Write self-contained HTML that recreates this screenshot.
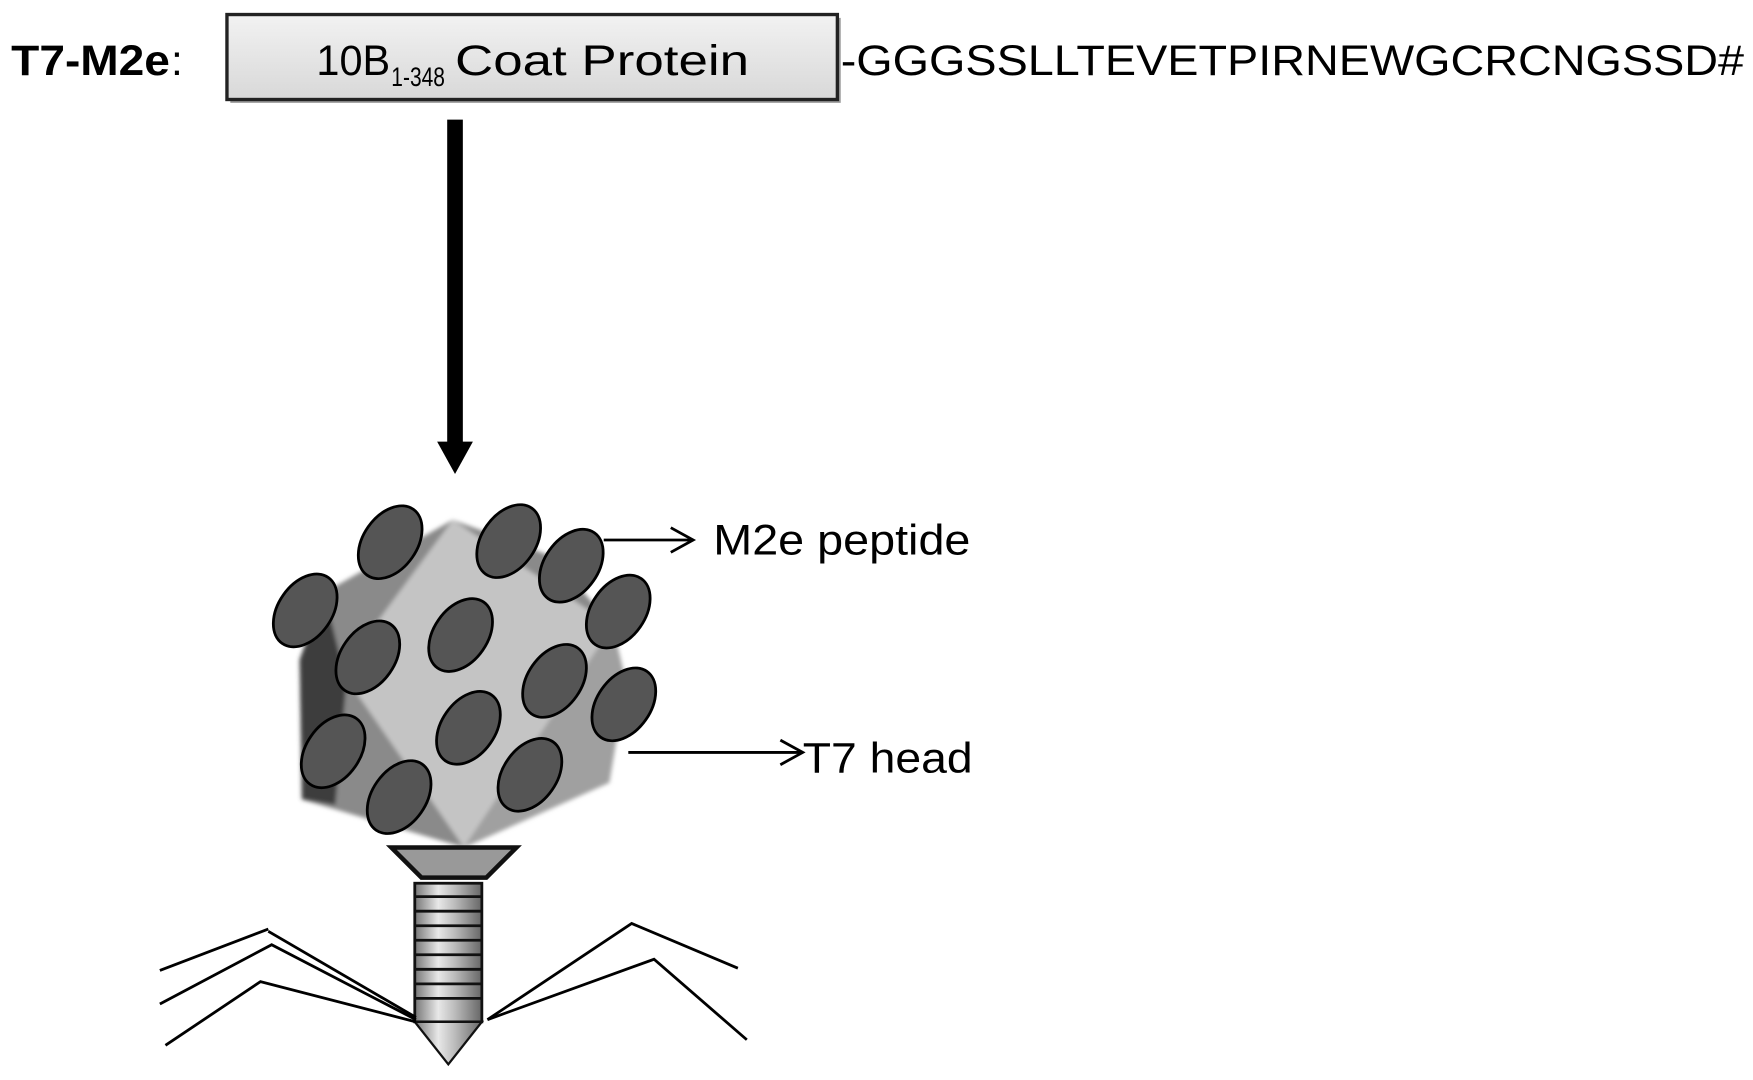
<!DOCTYPE html>
<html><head><meta charset="utf-8"><style>
html,body{margin:0;padding:0;background:#fff;width:1753px;height:1080px;overflow:hidden}
svg{display:block}
text{font-family:"Liberation Sans",Arial,sans-serif;fill:#000}
</style></head><body>
<svg width="1753" height="1080" viewBox="0 0 1568 966" preserveAspectRatio="none" xmlns="http://www.w3.org/2000/svg">
<defs>
<linearGradient id="bx" x1="0" y1="0" x2="0" y2="1"><stop offset="0" stop-color="#f2f2f2"/><stop offset="1" stop-color="#d8d8d8"/></linearGradient>
<linearGradient id="sc" x1="0" y1="0" x2="1" y2="0"><stop offset="0" stop-color="#777"/><stop offset="0.35" stop-color="#e8e8e8"/><stop offset="0.6" stop-color="#bbb"/><stop offset="1" stop-color="#666"/></linearGradient>
<filter id="bl"><feGaussianBlur stdDeviation="2"/></filter>
</defs>
<text x="10" y="67" font-size="38" font-weight="bold" textLength="142" lengthAdjust="spacingAndGlyphs">T7-M2e</text>
<text x="153" y="67" font-size="38">:</text>
<rect x="206" y="16" width="546" height="76" fill="#999"/>
<rect x="203" y="13" width="546" height="76" fill="url(#bx)" stroke="#222" stroke-width="3"/>
<text x="283" y="67" font-size="38" textLength="66" lengthAdjust="spacingAndGlyphs">10B</text>
<text x="350" y="77" font-size="24" textLength="48" lengthAdjust="spacingAndGlyphs">1-348</text>
<text x="407" y="67" font-size="38" textLength="263" lengthAdjust="spacingAndGlyphs">Coat Protein</text>
<text x="752" y="67" font-size="38" textLength="808" lengthAdjust="spacingAndGlyphs">-GGGSSLLTEVETPIRNEWGCRCNGSSD#</text>
<rect x="400" y="107" width="14" height="290" fill="#000"/>
<polygon points="391,395 423,395 407,424" fill="#000"/>
<g filter="url(#bl)">
<polygon points="405,465 495,498 548,560 560,610 545,700 415,758 270,715 268,590 290,530" fill="#8a8a8a"/>
<polygon points="268,590 290,530 310,610 300,720 270,715" fill="#3c3c3c"/>
<polygon points="405,465 548,560 415,758 305,600" fill="#c4c4c4"/>
<polygon points="548,560 560,610 545,700 415,758" fill="#a0a0a0"/>
</g>
<g fill="#555" stroke="#000" stroke-width="2.5">
<ellipse cx="349" cy="485" rx="24" ry="36" transform="rotate(35 349 485)"/>
<ellipse cx="455" cy="484" rx="24" ry="36" transform="rotate(35 455 484)"/>
<ellipse cx="511" cy="506" rx="24" ry="36" transform="rotate(35 511 506)"/>
<ellipse cx="273" cy="546" rx="24" ry="36" transform="rotate(35 273 546)"/>
<ellipse cx="553" cy="547" rx="24" ry="36" transform="rotate(35 553 547)"/>
<ellipse cx="329" cy="588" rx="24" ry="36" transform="rotate(35 329 588)"/>
<ellipse cx="412" cy="568" rx="24" ry="36" transform="rotate(35 412 568)"/>
<ellipse cx="496" cy="609" rx="24" ry="36" transform="rotate(35 496 609)"/>
<ellipse cx="558" cy="630" rx="24" ry="36" transform="rotate(35 558 630)"/>
<ellipse cx="298" cy="672" rx="24" ry="36" transform="rotate(35 298 672)"/>
<ellipse cx="419" cy="651" rx="24" ry="36" transform="rotate(35 419 651)"/>
<ellipse cx="357" cy="713" rx="24" ry="36" transform="rotate(35 357 713)"/>
<ellipse cx="474" cy="693" rx="24" ry="36" transform="rotate(35 474 693)"/>
</g>
<g stroke="#000" stroke-width="2.5" fill="none">
<line x1="540" y1="483" x2="620" y2="483"/><polyline points="600,472 620,483 600,494"/>
<line x1="562" y1="673" x2="718" y2="673"/><polyline points="698,662 718,673 698,684"/>
</g>
<text x="638" y="496" font-size="38" textLength="230" lengthAdjust="spacingAndGlyphs">M2e peptide</text>
<text x="718" y="691" font-size="38" textLength="152" lengthAdjust="spacingAndGlyphs">T7 head</text>
<polygon points="350,758 462,758 435,785 377,785" fill="#999" stroke="#111" stroke-width="4"/>
<rect x="371" y="790" width="60" height="124" fill="url(#sc)" stroke="#111" stroke-width="2.5"/>
<g stroke="#111" stroke-width="2.5">
<line x1="371" y1="802" x2="431" y2="802"/><line x1="371" y1="815" x2="431" y2="815"/><line x1="371" y1="828" x2="431" y2="828"/><line x1="371" y1="841" x2="431" y2="841"/><line x1="371" y1="854" x2="431" y2="854"/><line x1="371" y1="867" x2="431" y2="867"/><line x1="371" y1="880" x2="431" y2="880"/><line x1="371" y1="893" x2="431" y2="893"/>
</g>
<polygon points="371,914 431,914 401,952" fill="url(#sc)" stroke="#111" stroke-width="2"/>
<g stroke="#000" stroke-width="2.5" fill="none">
<polyline points="143,868 240,831"/>
<polyline points="143,898 243,845 372,912"/>
<polyline points="148,935 233,878 372,914"/>
<polyline points="240,833 372,910"/>
<polyline points="436,912 565,826 660,866"/>
<polyline points="436,912 585,858 668,930"/>
</g>
</svg>
</body></html>
